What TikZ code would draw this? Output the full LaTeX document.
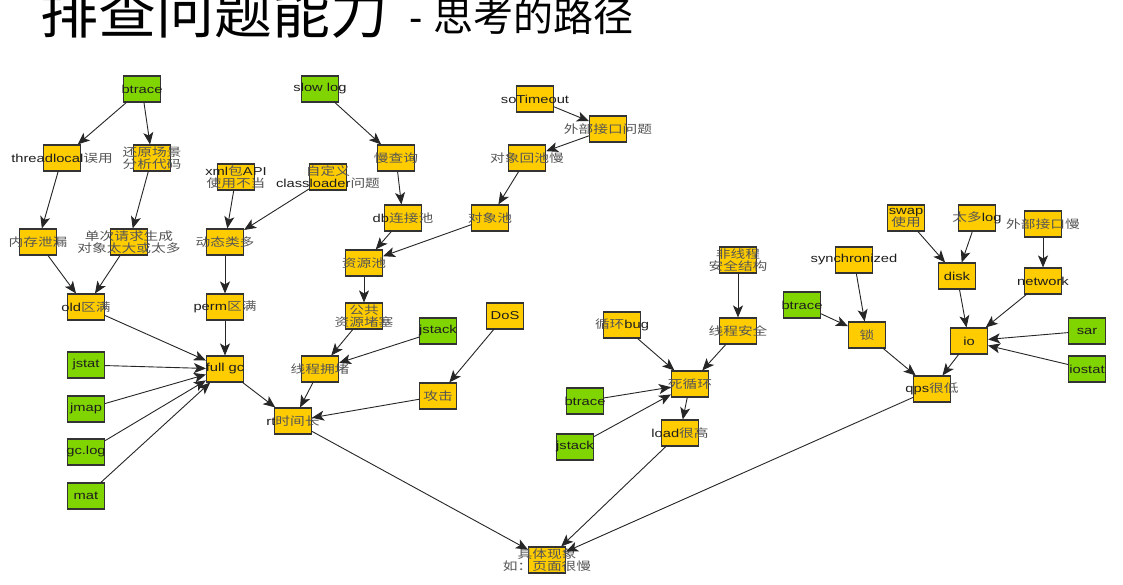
\documentclass[tikz,border=0pt]{standalone}
\usepackage{fontspec}
\setmainfont{Liberation Sans}
\newfontfamily\cjk{Noto Sans CJK SC}
\newfontfamily\latlbl[FakeStretch=1.28]{Liberation Sans}
\newfontfamily\cjklbl[FakeStretch=1.28]{Noto Sans CJK SC}
\usetikzlibrary{arrows.meta}
\definecolor{boxyellow}{RGB}{255,204,0}
\definecolor{boxgreen}{RGB}{128,212,0}
\definecolor{boxline}{RGB}{51,51,51}
\definecolor{zhgray}{RGB}{85,85,85}
\definecolor{latcol}{RGB}{30,30,30}
\newcommand{\zh}[1]{{\cjklbl\color{zhgray}#1}}
\tikzset{
  x=1pt, y=-1pt,
  basebox/.style={draw=boxline, line width=1.1pt, minimum width=37pt, minimum height=26pt, inner sep=0pt},
  ybox/.style={basebox, fill=boxyellow},
  gbox/.style={basebox, fill=boxgreen},
  lbl/.style={inner sep=0pt, align=center, text=latcol, font=\latlbl\fontsize{11.5}{12.5}\selectfont},
  lab/.style={label={[lbl]center:{#1}}},
  arr/.style={draw=black!85, line width=0.9pt, -{Stealth[length=12pt,width=10pt,inset=3pt]}},
}
\begin{document}
\begin{tikzpicture}
\fill[white] (0,0) rectangle (1123,584);
\useasboundingbox (0,0) rectangle (1123,584);

% title
\node[anchor=base west, inner sep=0pt, font=\cjk\fontsize{58}{58}\selectfont] (title) at (40,33) {排查问题能力};
\node[anchor=base west, inner sep=0pt, font=\fontsize{40}{40}\selectfont] (subtitle) at (409,31) {- {\cjk 思考的路径}};

% green boxes
\node[gbox,lab={btrace}] (bt1) at (142,89) {};
\node[gbox,lab={slow log}] (slow) at (320,89) {};
\node[gbox,lab={jstat}] (jstat) at (86,365) {};
\node[gbox,lab={jmap}] (jmap) at (86,409) {};
\node[gbox,lab={gc.log}] (gclog) at (86,452) {};
\node[gbox,lab={mat}] (mat) at (86,496) {};
\node[gbox,lab={jstack}] (js1) at (438,331) {};
\node[gbox,lab={btrace}] (bt2) at (585,401) {};
\node[gbox,lab={jstack}] (js2) at (575,447) {};
\node[gbox,lab={btrace}] (bt3) at (802,305) {};
\node[gbox,lab={sar}] (sar) at (1087,331) {};
\node[gbox,lab={iostat}] (iostat) at (1087,369) {};

% yellow boxes
\node[ybox,lab={threadlocal\zh{误用}}] (tl) at (62,158) {};
\node[ybox,lab={\zh{还原场景}\\\zh{分析代码}}] (hy) at (152,158) {};
\node[ybox,lab={\zh{内存泄漏}}] (nc) at (38,242) {};
\node[ybox,lab={\zh{单次请求生成}\\\zh{对象太大或太多}}] (dc) at (129,242) {};
\node[ybox,lab={xml\zh{包}API\\\zh{使用不当}}] (xml) at (236,177) {};
\node[ybox,lab={\zh{自定义}\\classloader\zh{问题}}] (cl) at (328,177) {};
\node[ybox,lab={\zh{动态类多}}] (dt) at (225,242) {};
\node[ybox,lab={old\zh{区满}}] (old) at (86,307) {};
\node[ybox,lab={perm\zh{区满}}] (perm) at (225,307) {};
\node[ybox,lab={full gc}] (fgc) at (225,369) {};
\node[ybox,lab={rt\zh{时间长}}] (rt) at (293,421) {};
\node[ybox,lab={\zh{慢查询}}] (mcx) at (396,158) {};
\node[ybox,lab={db\zh{连接池}}] (db) at (403,218) {};
\node[ybox,lab={\zh{资源池}}] (zyc) at (364,263) {};
\node[ybox,lab={soTimeout}] (so) at (535,99) {};
\node[ybox,lab={\zh{外部接口问题}}] (wb) at (608,129) {};
\node[ybox,lab={\zh{对象回池慢}}] (dxh) at (527,158) {};
\node[ybox,lab={\zh{对象池}}] (dxc) at (490,218) {};
\node[ybox,lab={\zh{公共}\\\zh{资源堵塞}}] (gg) at (364,316) {};
\node[ybox,lab={\zh{线程拥堵}}] (xcyd) at (320,369) {};
\node[ybox,lab={DoS}] (dos) at (505,316) {};
\node[ybox,lab={\zh{攻击}}] (gj) at (438,396) {};
\node[ybox,lab={\zh{非线程}\\\zh{安全结构}}] (fxc) at (738,260) {};
\node[ybox,lab={\zh{线程安全}}] (xcaq) at (738,331) {};
\node[ybox,lab={\zh{循环}bug}] (xhb) at (622,325) {};
\node[ybox,lab={\zh{死循环}}] (sxh) at (690,384) {};
\node[ybox,lab={load\zh{很高}}] (load) at (680,433) {};
\node[ybox,lab={synchronized}] (syn) at (854,260) {};
\node[ybox,lab={\zh{锁}}] (suo) at (867,335) {};
\node[ybox,lab={swap\\\zh{使用}}] (swap) at (906,218) {};
\node[ybox,lab={\zh{太多}log}] (tdl) at (977,218) {};
\node[ybox,lab={\zh{外部接口慢}}] (wbm) at (1043,224) {};
\node[ybox,lab={disk}] (disk) at (957,276) {};
\node[ybox,lab={network}] (net) at (1043,281) {};
\node[ybox,lab={io}] (io) at (969,341) {};
\node[ybox,lab={qps\zh{很低}}] (qps) at (932,389) {};
\node[ybox,lab={\zh{具体现象}\\\zh{如：页面很慢}}] (juti) at (547,560) {};

% connectors
\draw[arr] (bt1) -- (tl);
\draw[arr] (bt1) -- (hy);
\draw[arr] (tl) -- (nc);
\draw[arr] (hy) -- (dc);
\draw[arr] (nc) -- (old);
\draw[arr] (dc) -- (old);
\draw[arr] (xml) -- (dt);
\draw[arr] (cl) -- (dt);
\draw[arr] (dt) -- (perm);
\draw[arr] (perm) -- (fgc);
\draw[arr] (old) -- (fgc);
\draw[arr] (jstat) -- (fgc);
\draw[arr] (jmap) -- (fgc);
\draw[arr] (gclog) -- (fgc);
\draw[arr] (mat) -- (fgc);
\draw[arr] (fgc) -- (rt);
\draw[arr] (slow) -- (mcx);
\draw[arr] (mcx) -- (db);
\draw[arr] (db) -- (zyc);
\draw[arr] (dxc) -- (zyc);
\draw[arr] (so) -- (wb);
\draw[arr] (wb) -- (dxh);
\draw[arr] (dxh) -- (dxc);
\draw[arr] (zyc) -- (gg);
\draw[arr] (gg) -- (xcyd);
\draw[arr] (js1) -- (xcyd);
\draw[arr] (xcyd) -- (rt);
\draw[arr] (dos) -- (gj);
\draw[arr] (gj) -- (rt);
\draw[arr] (rt) -- (juti);
\draw[arr] (fxc) -- (xcaq);
\draw[arr] (xhb) -- (sxh);
\draw[arr] (xcaq) -- (sxh);
\draw[arr] (bt2) -- (sxh);
\draw[arr] (js2) -- (sxh);
\draw[arr] (sxh) -- (load);
\draw[arr] (load) -- (juti);
\draw[arr] (qps) -- (juti);
\draw[arr] (syn) -- (suo);
\draw[arr] (bt3) -- (suo);
\draw[arr] (suo) -- (qps);
\draw[arr] (swap) -- (disk);
\draw[arr] (tdl) -- (disk);
\draw[arr] (wbm) -- (net);
\draw[arr] (disk) -- (io);
\draw[arr] (net) -- (io);
\draw[arr] (sar) -- (io);
\draw[arr] (iostat) -- (io);
\draw[arr] (io) -- (qps);
\end{tikzpicture}
\end{document}
